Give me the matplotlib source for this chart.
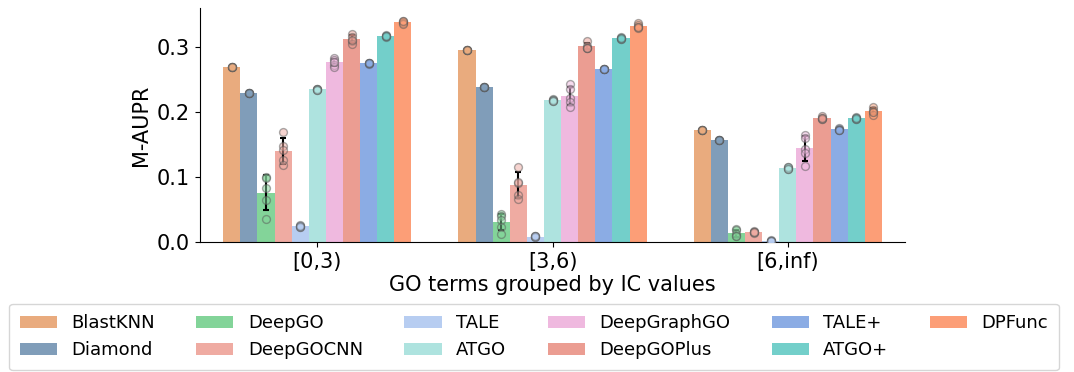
import numpy as np
import matplotlib
matplotlib.use("Agg")
import matplotlib.pyplot as plt
from matplotlib.patches import Patch

groups = ["[0,3)", "[3,6)", "[6,inf)"]
methods = ["BlastKNN", "Diamond", "DeepGO", "DeepGOCNN", "TALE", "ATGO",
           "DeepGraphGO", "DeepGOPlus", "TALE+", "ATGO+", "DPFunc"]
colors = ["#E9AB7E", "#809DB9", "#83D499", "#EFABA2", "#B7CDF1", "#AEE3DF",
          "#EFB9DF", "#EB9D92", "#8BACE4", "#73CFCA", "#FC9E77"]

# per-run values (5 runs) for each method, per IC group
runs_g1 = {
    "BlastKNN":    [0.269, 0.269, 0.269, 0.269, 0.269],
    "Diamond":     [0.229, 0.229, 0.229, 0.229, 0.229],
    "DeepGO":      [0.100, 0.083, 0.065, 0.035, 0.098],
    "DeepGOCNN":   [0.169, 0.148, 0.142, 0.126, 0.118],
    "TALE":        [0.025, 0.026, 0.024, 0.023, 0.025],
    "ATGO":        [0.236, 0.235, 0.234, 0.236, 0.234],
    "DeepGraphGO": [0.284, 0.280, 0.272, 0.270, 0.277],
    "DeepGOPlus":  [0.320, 0.316, 0.310, 0.305, 0.311],
    "TALE+":       [0.275, 0.275, 0.274, 0.276, 0.275],
    "ATGO+":       [0.317, 0.318, 0.316, 0.317, 0.317],
    "DPFunc":      [0.341, 0.339, 0.337, 0.336, 0.340],
}
runs_g2 = {
    "BlastKNN":    [0.295, 0.295, 0.295, 0.295, 0.295],
    "Diamond":     [0.238, 0.238, 0.238, 0.238, 0.238],
    "DeepGO":      [0.044, 0.040, 0.034, 0.024, 0.013],
    "DeepGOCNN":   [0.116, 0.091, 0.072, 0.067, 0.093],
    "TALE":        [0.009, 0.008, 0.009, 0.008, 0.009],
    "ATGO":        [0.220, 0.218, 0.217, 0.219, 0.217],
    "DeepGraphGO": [0.243, 0.235, 0.222, 0.216, 0.208],
    "DeepGOPlus":  [0.310, 0.302, 0.299, 0.298, 0.299],
    "TALE+":       [0.267, 0.267, 0.267, 0.267, 0.267],
    "ATGO+":       [0.315, 0.313, 0.314, 0.313, 0.314],
    "DPFunc":      [0.337, 0.334, 0.331, 0.329, 0.331],
}
runs_g3 = {
    "BlastKNN":    [0.172, 0.172, 0.172, 0.172, 0.172],
    "Diamond":     [0.157, 0.157, 0.157, 0.157, 0.157],
    "DeepGO":      [0.021, 0.018, 0.012, 0.009, 0.009],
    "DeepGOCNN":   [0.017, 0.015, 0.014, 0.016, 0.015],
    "TALE":        [0.002, 0.002, 0.003, 0.002, 0.002],
    "ATGO":        [0.116, 0.113, 0.114, 0.115, 0.113],
    "DeepGraphGO": [0.165, 0.144, 0.137, 0.117, 0.160],
    "DeepGOPlus":  [0.194, 0.190, 0.191, 0.190, 0.191],
    "TALE+":       [0.176, 0.174, 0.173, 0.172, 0.173],
    "ATGO+":       [0.192, 0.190, 0.191, 0.190, 0.191],
    "DPFunc":      [0.208, 0.204, 0.200, 0.196, 0.200],
}
all_runs = [runs_g1, runs_g2, runs_g3]

fig = plt.figure(figsize=(10.74, 3.72), dpi=100)
ax = fig.add_axes([0.186, 0.349, 0.657, 0.629])

n = len(methods)
total_w = 0.8
w = total_w / n
for gi, runs in enumerate(all_runs):
    for mi, m in enumerate(methods):
        vals = np.array(runs[m])
        x = gi - total_w / 2 + w * (mi + 0.5)
        mean = vals.mean()
        sd = vals.std(ddof=1)
        ax.bar(x, mean, width=w, color=colors[mi], zorder=1)
        if sd > 0.004:
            ax.errorbar(x, mean, yerr=sd, color="black", lw=1.5, capsize=2,
                        capthick=1.5, zorder=3)
        ax.scatter([x] * len(vals), vals, s=32, facecolor=colors[mi],
                   edgecolor="0.35", linewidth=1, alpha=0.5, zorder=4)

ax.set_xlim(-0.5, 2.5)
ax.set_ylim(0, 0.36)
ax.set_xticks(range(len(groups)))
ax.set_xticklabels(groups, fontsize=15)
ax.set_yticks([0.0, 0.1, 0.2, 0.3])
ax.set_yticklabels(["0.0", "0.1", "0.2", "0.3"], fontsize=15)
ax.set_ylabel("M-AUPR", fontsize=15)
ax.set_xlabel("GO terms grouped by IC values", fontsize=15, labelpad=2)
for s in ["top", "right"]:
    ax.spines[s].set_visible(False)

handles = [Patch(facecolor=c, label=m) for c, m in zip(colors, methods)]
fig.legend(handles=handles, loc="lower center", bbox_to_anchor=(0.497, 0.0),
           ncol=6, fontsize=13, frameon=True, handlelength=2.05,
           handletextpad=0.8, columnspacing=2.3, borderpad=0.6,
           borderaxespad=0.1)

fig.savefig("out.png", dpi=100)
